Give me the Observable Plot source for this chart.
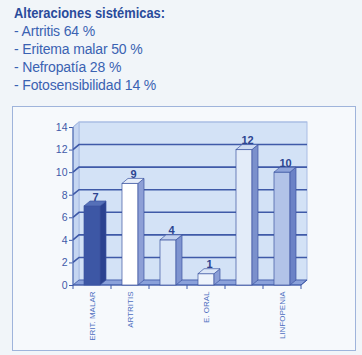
<!DOCTYPE html>
<html><head><meta charset="utf-8">
<script src="https://cdn.jsdelivr.net/npm/d3@7"></script>
<script src="https://cdn.jsdelivr.net/npm/@observablehq/plot@0.6"></script>
<style>
html,body{margin:0;padding:0}
body{width:362px;height:355px;background:#f1f5f9;position:relative;overflow:hidden;font-family:"Liberation Sans",Arial,sans-serif}
#title{position:absolute;left:14px;top:4px;color:#2a4b9b;font-weight:bold;font-size:14px;line-height:18px;transform:scaleX(0.92);transform-origin:0 0;white-space:nowrap}
#list{position:absolute;left:14px;top:22px;color:#3a62b2;font-size:14px;line-height:18px;letter-spacing:-0.15px;white-space:nowrap}
#box{position:absolute;left:12px;top:106px;width:342px;height:243px;border:1px solid #9fb4db;background:#f6f9fc}
#box svg{position:absolute;left:0;top:0}
</style></head>
<body>
<div id="title">Alteraciones sistémicas:</div>
<div id="list"></div>
<div id="box"></div>
<script>
const summaryItems = ["- Artritis 64 %", "- Eritema malar 50 %", "- Nefropatía 28 %", "- Fotosensibilidad 14 %"];
const categories = ["ERIT. MALAR", "ARTRITIS", "(3)", "E. ORAL", "(5)", "LINFOPENIA"];
const tickLabels = ["ERIT. MALAR", "ARTRITIS", "", "E. ORAL", "", "LINFOPENIA"];
const values = [7, 9, 4, 1, 12, 10];
const yTicks = [0, 2, 4, 6, 8, 10, 12, 14];
const frontColors = ["#3d57a5", "#ffffff", "#d9e5f7", "#eef4fc", "#e3ecf9", "#b2c3e8"];
const sideColors  = ["#2b4290", "#8d9fd6", "#7f94d0", "#8a9ed6", "#7b90cc", "#6b82c6"];
const topColors   = ["#5570b8", "#e6edf9", "#c3d2ee", "#dbe6f7", "#cfdcf3", "#8fa4da"];

document.getElementById("list").innerHTML = summaryItems.map(s => `<div>${s}</div>`).join("");

const data = categories.map((c, i) => ({cat: c, value: values[i], front: frontColors[i], side: sideColors[i], top: topColors[i]}));

const W = 342, H = 243, ML = 60, MR = 54, MT = 20, MB = 65;
const BARW = 16, DX = 6, DY = -5;
const LINE = "#3f5aa8";

function scene(index, scales, vals, dim) {
  const sy = scales.y;
  const left = dim.marginLeft, right = dim.width - dim.marginRight;
  const top = sy(14), bot = sy(0);
  const g = d3.create("svg:g");
  g.append("rect").attr("x", left + DX).attr("y", top + DY).attr("width", right - left).attr("height", bot - top)
    .attr("fill", "#d3e2f6").attr("stroke", "#a9bde4");
  g.append("path").attr("d", `M${left},${top}L${left+DX},${top+DY}L${left+DX},${bot+DY}L${left},${bot}Z`)
    .attr("fill", "#c5d6f1").attr("stroke", "#a9bde4");
  g.append("path").attr("d", `M${left},${bot}L${left+DX},${bot+DY}L${right+DX},${bot+DY}L${right},${bot}Z`)
    .attr("fill", "#8aa1da").attr("stroke", LINE).attr("stroke-width", 0.8);
  yTicks.filter(v => v > 0).forEach(v => {
    const y = sy(v);
    g.append("path").attr("d", `M${left},${y}L${left+DX},${y+DY}L${right+DX},${y+DY}`)
      .attr("fill", "none").attr("stroke", v === 14 ? "#a9bde4" : LINE).attr("stroke-width", v === 14 ? 1 : 1.6);
  });
  g.append("line").attr("x1", left).attr("x2", left).attr("y1", top).attr("y2", bot).attr("stroke", LINE);
  g.append("line").attr("x1", left).attr("x2", right).attr("y1", bot).attr("y2", bot).attr("stroke", LINE);
  g.append("line").attr("x1", right).attr("x2", right + DX).attr("y1", bot).attr("y2", bot + DY).attr("stroke", LINE);
  const step = (right - left) / categories.length;
  for (let i = 0; i <= categories.length; i++) {
    const x = left + i * step;
    g.append("line").attr("x1", x).attr("x2", x).attr("y1", bot).attr("y2", bot + 4).attr("stroke", LINE);
  }
  return g.node();
}

function bars3d(index, scales, vals, dim) {
  const sx = scales.x, sy = scales.y;
  const step = (dim.width - dim.marginLeft - dim.marginRight) / categories.length;
  const g = d3.create("svg:g").attr("stroke", "#3c55a0").attr("stroke-width", 0.7).attr("stroke-linejoin", "round");
  data.forEach(d => {
    const x0 = sx(d.cat) + (step - BARW) / 2, x1 = x0 + BARW;
    const yt = sy(d.value), yb = sy(0);
    g.append("path").attr("d", `M${x1},${yb}L${x1+DX},${yb+DY}L${x1+DX},${yt+DY}L${x1},${yt}Z`).attr("fill", d.side);
    g.append("path").attr("d", `M${x0},${yt}L${x0+DX},${yt+DY}L${x1+DX},${yt+DY}L${x1},${yt}Z`).attr("fill", d.top);
  });
  return g.node();
}

const inset = ((W - ML - MR) / categories.length - BARW) / 2;

const chart = Plot.plot({
  width: W, height: H,
  marginLeft: ML, marginRight: MR, marginTop: MT, marginBottom: MB,
  style: {background: "transparent", color: "#3f5aa8", fontFamily: "'Liberation Sans', Arial, sans-serif"},
  x: {domain: categories, padding: 0, tickRotate: -90, tickSize: 0, tickPadding: 6,
      tickFormat: d => tickLabels[categories.indexOf(d)], label: null},
  y: {domain: [0, 14], ticks: yTicks, tickSize: 4, tickPadding: 2, label: null, line: false},
  marks: [
    scene,
    Plot.barY(data, {x: "cat", y: "value", fill: "front", insetLeft: inset, insetRight: inset, stroke: "#3c55a0", strokeWidth: 0.7}),
    bars3d,
    Plot.text(data, {x: "cat", y: "value", text: d => String(d.value), dx: DX / 2, dy: DY - 4.5, fill: "#2c4490", fontWeight: "bold", fontSize: 11})
  ]
});
chart.querySelectorAll("g[aria-label='x-axis tick label'] text, g[aria-label='x-axis'] text").forEach(t => { t.style.fontSize = "8px"; t.setAttribute("fill", "#4f6fc0"); });
chart.querySelectorAll("g[aria-label='y-axis tick label'] text, g[aria-label='y-axis'] text").forEach(t => { t.style.fontSize = "10.5px"; });
document.getElementById("box").appendChild(chart);
</script>
</body></html>
